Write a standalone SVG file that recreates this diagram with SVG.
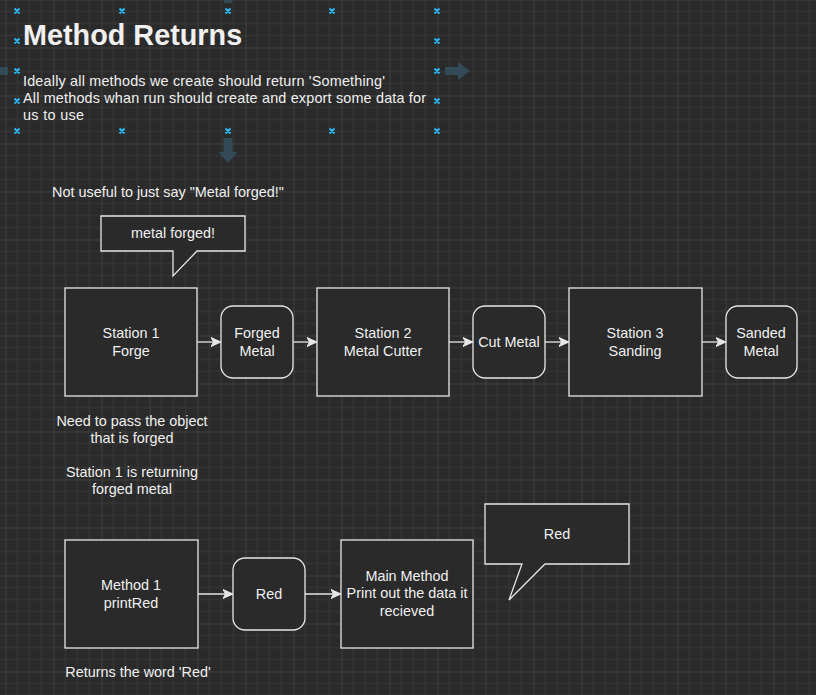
<svg xmlns="http://www.w3.org/2000/svg" width="816" height="695" viewBox="0 0 816 695">
<style>
.t{font-family:"Liberation Sans",Arial,Helvetica,sans-serif;font-size:14.4px;fill:#f0f0f0}
.c{text-anchor:middle}
.box{fill:#2a2a2a;stroke:#e6e6e6;stroke-width:1.3}
.edge{fill:none;stroke:#e6e6e6;stroke-width:1.3}
.head{fill:#e6e6e6;stroke:#e6e6e6;stroke-width:1}
.hx{stroke:#29b6f2;stroke-width:2;fill:none}
.harr{fill:#33505e;opacity:0.85}
</style>
<defs>
<pattern id="grid" width="48" height="48" patternUnits="userSpaceOnUse" x="5.5" y="-0.5">
<rect width="48" height="48" fill="#2a2a2a"/>
<path d="M12 0V48M24 0V48M36 0V48M0 12H48M0 24H48M0 36H48" stroke="#343434" stroke-width="1.5"/>
<path d="M0 0V48M0 0H48" stroke="#555555" stroke-width="1"/>
</pattern>
<marker id="arr" markerWidth="12" markerHeight="12" viewBox="0 0 12 12" refX="10" refY="5" orient="auto" markerUnits="userSpaceOnUse">
<path d="M10 5L0 0.5L2.5 5L0 9.5Z" class="head"/>
</marker>
</defs>
<rect width="816" height="695" fill="url(#grid)"/>

<g id="ui-overlay">
<path class="harr" d="M445 67H458V62L470 71L458 80V75H445Z"/>
<path class="harr" d="M223.5 138H232.5V152H237.5L228 163L218.5 152H223.5Z"/>
<path class="harr" d="M0 67H8V75H0Z"/>
<path class="harr" d="M224 0H232V3H224Z"/>
<g class="hx">
<path d="M14.5 8.5l5 5M19.5 8.5l-5 5M119.5 8.5l5 5M124.5 8.5l-5 5M225.5 8.5l5 5M230.5 8.5l-5 5M329.5 8.5l5 5M334.5 8.5l-5 5M434.5 8.5l5 5M439.5 8.5l-5 5"/>
<path d="M14.5 38.5l5 5M19.5 38.5l-5 5M434.5 38.5l5 5M439.5 38.5l-5 5"/>
<path d="M14.5 68.5l5 5M19.5 68.5l-5 5M434.5 68.5l5 5M439.5 68.5l-5 5"/>
<path d="M14.5 98.5l5 5M19.5 98.5l-5 5M434.5 98.5l5 5M439.5 98.5l-5 5"/>
<path d="M14.5 128.5l5 5M19.5 128.5l-5 5M119.5 128.5l5 5M124.5 128.5l-5 5M225.5 128.5l5 5M230.5 128.5l-5 5M329.5 128.5l5 5M334.5 128.5l-5 5M434.5 128.5l5 5M439.5 128.5l-5 5"/>
</g>
</g>

<g id="title">
<text class="t" x="23" y="45" style="font-size:28.8px;font-weight:bold">Method Returns</text>
<text class="t" x="23" y="86" textLength="362" lengthAdjust="spacing">Ideally all methods we create should return 'Something'</text>
<text class="t" x="23" y="103" textLength="403" lengthAdjust="spacing">All methods whan run should create and export some data for</text>
<text class="t" x="23" y="120" textLength="61" lengthAdjust="spacing">us to use</text>
</g>

<g id="note-not-useful"><text class="t c" x="168" y="197">Not useful to just say "Metal forged!"</text></g>

<g id="callout-metal-forged">
<path class="box" d="M101 216H245V251H197L173 276V251H101Z"/>
<text class="t c" x="173" y="238">metal forged!</text>
</g>

<g id="station1"><rect class="box" x="65" y="288" width="132" height="108"/>
<text class="t c" x="131" y="338.3">Station 1</text><text class="t c" x="131" y="355.6">Forge</text></g>
<g id="forged-metal"><rect class="box" x="221" y="306" width="72" height="72" rx="12"/>
<text class="t c" x="257" y="338.3">Forged</text><text class="t c" x="257" y="355.6">Metal</text></g>
<g id="station2"><rect class="box" x="317" y="288" width="132" height="108"/>
<text class="t c" x="383" y="338.3">Station 2</text><text class="t c" x="383" y="355.6">Metal Cutter</text></g>
<g id="cut-metal"><rect class="box" x="473" y="306" width="72" height="72" rx="12"/>
<text class="t c" x="509" y="347">Cut Metal</text></g>
<g id="station3"><rect class="box" x="569" y="288" width="133" height="108"/>
<text class="t c" x="635" y="338.3">Station 3</text><text class="t c" x="635" y="355.6">Sanding</text></g>
<g id="sanded-metal"><rect class="box" x="726" y="306" width="71" height="72" rx="12"/>
<text class="t c" x="761" y="338.3">Sanded</text><text class="t c" x="761" y="355.6">Metal</text></g>

<g id="note-pass"><text class="t c" x="132" y="426">Need to pass the object</text><text class="t c" x="132" y="443">that is forged</text></g>
<g id="note-returning"><text class="t c" x="132" y="477">Station 1 is returning</text><text class="t c" x="132" y="494">forged metal</text></g>

<g id="method1"><rect class="box" x="65" y="540" width="133" height="108"/>
<text class="t c" x="131" y="590.3">Method 1</text><text class="t c" x="131" y="607.6">printRed</text></g>
<g id="red"><rect class="box" x="233" y="558" width="72" height="72" rx="12"/>
<text class="t c" x="269" y="598.6">Red</text></g>
<g id="main-method"><rect class="box" x="341" y="540" width="132" height="108"/>
<text class="t c" x="407" y="581">Main Method</text><text class="t c" x="407" y="598.3">Print out the data it</text><text class="t c" x="407" y="615.6">recieved</text></g>
<g id="callout-red">
<path class="box" d="M485 504H629V564H545L509 600L522 564H485Z"/>
<text class="t c" x="557" y="539">Red</text>
</g>
<g id="note-returns"><text class="t c" x="138" y="677">Returns the word 'Red'</text></g>

<g id="connectors">
<path class="edge" d="M197 342H221" marker-end="url(#arr)"/>
<path class="edge" d="M293 342H317" marker-end="url(#arr)"/>
<path class="edge" d="M449 342H473" marker-end="url(#arr)"/>
<path class="edge" d="M545 342H569" marker-end="url(#arr)"/>
<path class="edge" d="M702 342H726" marker-end="url(#arr)"/>
<path class="edge" d="M198 594H233" marker-end="url(#arr)"/>
<path class="edge" d="M305 594H341" marker-end="url(#arr)"/>
</g>
</svg>
